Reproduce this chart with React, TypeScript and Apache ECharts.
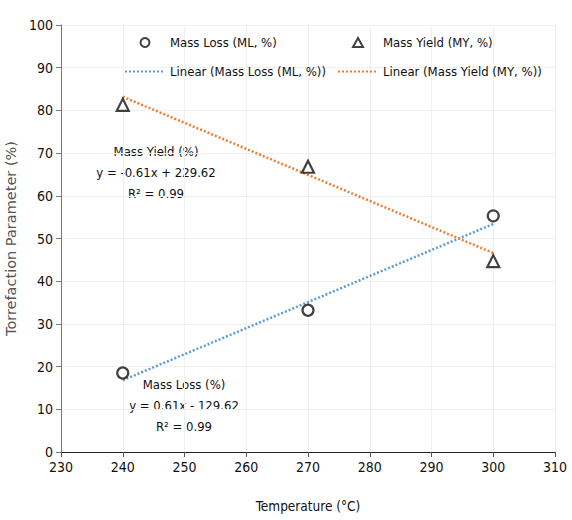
import React, { useEffect, useRef } from "react";
import * as echarts from "echarts";

const temps = [240, 270, 300];
const massLoss = [18.5, 33.2, 55.3];
const massYield = [81.3, 66.8, 44.7];
const trendX = [240, 300];
const massLossTrend = [16.8, 53.4];
const massYieldTrend = [83.2, 46.6];

const mlName = "Mass Loss (ML, %)";
const myName = "Mass Yield (MY, %)";
const mlTrendName = "Linear (Mass Loss (ML, %))";
const myTrendName = "Linear (Mass Yield (MY, %))";

const FONT = "'DejaVu Sans Condensed', 'Liberation Sans Narrow', Lato, sans-serif";

export default function App() {
  const ref = useRef<HTMLDivElement>(null);
  useEffect(() => {
    document.body.style.margin = "0";
    if (!ref.current) return;
    const chart = echarts.init(ref.current, null, { renderer: "svg" });
    const pair = (xs: number[], ys: number[]) => xs.map((x, i) => [x, ys[i]]);
    const textStyle = { fontFamily: FONT, fontSize: 13, color: "#111" };
    const lineLegend = (name: string) => ({ name, itemStyle: { opacity: 0 } });
    const triIcon = "path://M5,0 L10,9 L0,9 Z";
    chart.setOption({
      animation: false,
      backgroundColor: "#fff",
      grid: { left: 61, right: 17, top: 25, bottom: 68, outerBoundsMode: "none", containLabel: false },
      legend: [
        {
          orient: "vertical",
          left: 119,
          top: 31,
          itemWidth: 40,
          itemHeight: 9,
          itemGap: 16,
          symbolKeepAspect: true,
          textStyle,
          data: [mlName, lineLegend(mlTrendName)],
        },
        {
          orient: "vertical",
          left: 332,
          top: 31,
          itemWidth: 40,
          itemHeight: 9,
          itemGap: 16,
          symbolKeepAspect: true,
          textStyle,
          data: [{ name: myName, icon: triIcon, itemStyle: { color: "#fff", borderColor: "#111", borderWidth: 2 } }, lineLegend(myTrendName)],
        },
      ],
      xAxis: {
        type: "value",
        min: 230,
        max: 310,
        interval: 10,
        name: "Temperature (°C)",
        nameLocation: "middle",
        nameGap: 47,
        nameTextStyle: { fontFamily: FONT, fontSize: 13.5, color: "#111" },
        axisLine: { show: true, lineStyle: { color: "#222", width: 1 } },
        axisTick: { show: true, length: 5, lineStyle: { color: "#555" } },
        axisLabel: { fontFamily: FONT, fontSize: 14, color: "#111", margin: 8 },
        splitLine: { show: true, lineStyle: { color: "#f0f0f0" } },
      },
      yAxis: {
        type: "value",
        min: 0,
        max: 100,
        interval: 10,
        name: "Torrefaction Parameter (%)",
        nameLocation: "middle",
        nameGap: 27,
        nameTextStyle: { fontFamily: "'DejaVu Sans', sans-serif", fontSize: 14.5, color: "#555" },
        axisLine: { show: true, lineStyle: { color: "#777", width: 1 } },
        axisTick: { show: true, length: 5, lineStyle: { color: "#777" } },
        axisLabel: { fontFamily: FONT, fontSize: 14, color: "#111", margin: 8 },
        splitLine: { show: true, lineStyle: { color: "#f0f0f0" } },
      },
      series: [
        {
          name: mlName,
          type: "scatter",
          symbol: "circle",
          symbolSize: 11,
          itemStyle: { color: "#fff", borderColor: "#111", borderWidth: 2.2 },
          data: pair(temps, massLoss),
          z: 5,
        },
        {
          name: myName,
          type: "scatter",
          symbol: "triangle",
          symbolSize: 12,
          symbolKeepAspect: true,
          itemStyle: { color: "#fff", borderColor: "#111", borderWidth: 2.2 },
          data: pair(temps, massYield),
          z: 5,
        },
        {
          name: mlTrendName,
          type: "line",
          symbol: "none",
          lineStyle: { color: "#5B9BD5", width: 2.5, type: [2, 2] },
          itemStyle: { color: "#5B9BD5" },
          data: pair(trendX, massLossTrend),
          z: 3,
        },
        {
          name: myTrendName,
          type: "line",
          symbol: "none",
          lineStyle: { color: "#ED7D31", width: 2.5, type: [2, 2] },
          itemStyle: { color: "#ED7D31" },
          data: pair(trendX, massYieldTrend),
          z: 3,
        },
      ],
      graphic: [
        { type: "text", x: 156, y: 145, style: { text: "Mass Yield (%)", font: `13px ${FONT}`, fill: "#111", textAlign: "center" } },
        { type: "text", x: 156, y: 166, style: { text: "y = -0.61x + 229.62", font: `13px ${FONT}`, fill: "#111", textAlign: "center" } },
        { type: "text", x: 156, y: 187, style: { text: "R² = 0.99", font: `13px ${FONT}`, fill: "#111", textAlign: "center" } },
        { type: "text", x: 184, y: 378, style: { text: "Mass Loss (%)", font: `13px ${FONT}`, fill: "#111", textAlign: "center" } },
        { type: "text", x: 184, y: 399, style: { text: "y = 0.61x - 129.62", font: `13px ${FONT}`, fill: "#111", textAlign: "center" } },
        { type: "text", x: 184, y: 420, style: { text: "R² = 0.99", font: `13px ${FONT}`, fill: "#111", textAlign: "center" } },
      ],
    });
    return () => chart.dispose();
  }, []);
  return <div ref={ref} style={{ width: 572, height: 520 }} />;
}
